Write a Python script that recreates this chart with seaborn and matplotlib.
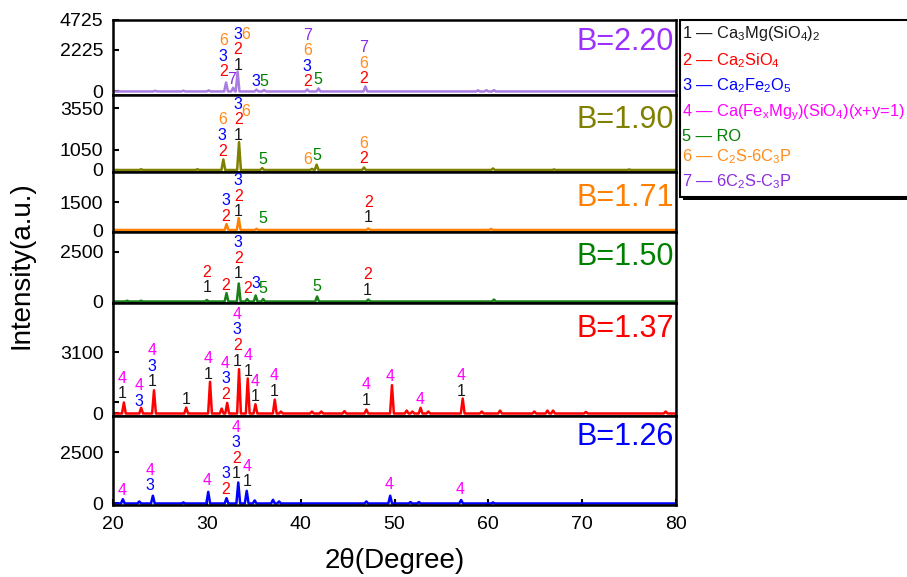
import numpy as np
import pandas as pd
import matplotlib
matplotlib.use('Agg')
import matplotlib.pyplot as plt
import seaborn as sns
from matplotlib.patches import Rectangle

sns.set_style('ticks')
plt.rcParams['font.family'] = ['Liberation Sans', 'DejaVu Sans']
plt.rcParams['mathtext.fontset'] = 'custom'
plt.rcParams['mathtext.rm'] = 'Liberation Sans'
plt.rcParams['mathtext.it'] = 'Liberation Sans:italic'
plt.rcParams['mathtext.bf'] = 'Liberation Sans:bold'
for key in ['text.color', 'axes.labelcolor', 'xtick.color', 'ytick.color']:
    plt.rcParams[key] = 'black'

# ---------------- data ----------------
samples = ['B=2.20', 'B=1.90', 'B=1.71', 'B=1.50', 'B=1.37', 'B=1.26']
line_colors = ['#A97EE0', '#808000', '#FF8000', '#1A801A', '#FF0000', '#0000FF']
label_colors = ['#9B30FF', '#808000', '#FF8000', '#008000', '#FF0000', '#0000FF']

# peak positions (2theta) and intensities
pos_220 = [24.5, 27.5, 30.2, 32.05, 32.8, 33.28, 35.3, 36.1, 40.7, 41.9, 46.9, 58.9, 59.8, 60.6]
int_220 = [40, 40, 60, 480, 200, 1070, 100, 80, 110, 160, 270, 60, 70, 70]

pos_190 = [23.0, 29.0, 31.76, 33.43, 35.9, 41.2, 41.7, 46.75, 60.5, 67.0, 75.0]
int_190 = [40, 40, 550, 1450, 100, 60, 280, 130, 80, 30, 30]

pos_171 = [32.1, 33.4, 35.3, 47.2, 60.3]
int_171 = [320, 640, 60, 80, 60]

pos_150 = [21.5, 23.0, 30.0, 32.1, 33.4, 34.3, 35.2, 36.0, 41.75, 47.2, 60.6]
int_150 = [40, 40, 75, 420, 900, 120, 300, 120, 250, 100, 100]

pos_137 = [21.16, 23.0, 24.37, 27.8, 30.34, 31.58, 32.17, 33.43, 34.36, 35.18, 37.24, 37.9,
           41.2, 42.2, 44.66, 47.0, 49.73, 51.3, 51.9, 52.78, 53.6, 57.27, 59.3, 61.25,
           64.9, 66.3, 66.9, 70.4, 78.9]
int_137 = [560, 290, 1180, 300, 1610, 250, 540, 2250, 1780, 470, 710, 100,
           100, 100, 120, 200, 1440, 150, 100, 290, 100, 760, 100, 150,
           100, 150, 150, 80, 100]

pos_126 = [21.05, 22.8, 24.25, 27.5, 30.15, 32.1, 33.35, 34.25, 35.1, 37.05, 37.7, 47.0,
           49.54, 51.7, 52.6, 57.1, 60.5]
int_126 = [210, 100, 380, 50, 570, 260, 1030, 620, 150, 180, 100, 100,
           380, 70, 70, 170, 50]

peak_pos = [pos_220, pos_190, pos_171, pos_150, pos_137, pos_126]
peak_int = [int_220, int_190, int_171, int_150, int_137, int_126]

# y ranges and tick labels for each panel
ylims = [(-190, 3830), (-104, 3900), (-107, 3110), (-75, 3475), (-127, 5613), (-74, 4288)]
yticks = [[0, 2225, 3830], [0, 1050, 3200], [0, 1500], [0, 2500], [0, 600, 3100], [0, 2500]]
ytick_labels = [['0', '2225', '4725'], ['0', '1050', '3550'], ['0', '1500'], ['0', '2500'],
                ['0', '', '3100'], ['0', '2500']]
sample_label_y = [0.600, 0.568, 0.433, 0.535, 0.702, 0.674]

# phase marks: (2theta, intensity at bottom digit, digits bottom -> top)
marks_220 = [(31.76, 820, '236'), (32.65, 413, '7'), (33.29, 1163, '123'), (34.17, 2825, '6'),
             (35.2, 268, '3'), (36.1, 268, '5'), (40.71, 268, '2367'), (41.88, 375, '5'),
             (46.68, 445, '267')]
marks_190 = [(31.65, 754, '236'), (33.35, 1570, '123'), (34.17, 2834, '6'), (36.0, 322, '5'),
             (40.7, 286, '6'), (41.7, 494, '5'), (46.75, 354, '26')]
marks_171 = [(31.98, 509, '23'), (33.35, 740, '123'), (36.0, 386, '5'), (47.2, 418, '12')]
marks_150 = [(30.0, 465, '12'), (31.98, 600, '2'), (33.35, 1165, '123'), (34.4, 415, '2'),
             (35.18, 665, '3'), (36.0, 435, '5'), (41.75, 550, '5'), (47.1, 335, '12')]
marks_137 = [(20.93, 777, '14'), (22.8, 406, '34'), (24.17, 1387, '134'), (27.8, 493, '1'),
             (30.15, 1763, '14'), (31.98, 747, '234'), (33.23, 2438, '1234'), (34.36, 1930, '14'),
             (35.18, 610, '14'), (37.13, 914, '14'), (47.0, 442, '14'), (49.54, 1626, '4'),
             (52.74, 493, '4'), (57.15, 914, '14')]
marks_126 = [(20.93, 426, '4'), (23.98, 637, '34'), (30.0, 916, '4'), (32.0, 475, '23'),
             (33.14, 1240, '1234'), (34.3, 848, '14'), (49.47, 720, '4'), (56.96, 475, '4')]
marks = [marks_220, marks_190, marks_171, marks_150, marks_137, marks_126]

phase_colors = {'1': '#1A1A1A', '2': '#FF0000', '3': '#0000FF', '4': '#FF00FF',
                '5': '#008000', '6': '#FF8C1A', '7': '#8A2BE2'}
legend_entries = [r'1 — Ca$_3$Mg(SiO$_4$)$_2$', r'2 — Ca$_2$SiO$_4$', r'3 — Ca$_2$Fe$_2$O$_5$',
                  r'4 — Ca(Fe$_{\rm x}$Mg$_{\rm y}$)(SiO$_4$)(x+y=1)', '5 — RO',
                  r'6 — C$_2$S-6C$_3$P', r'7 — 6C$_2$S-C$_3$P']
xticks = [20, 30, 40, 50, 60, 70, 80]


def profile(pos, inten, hw=0.2):
    xs, ys = [19.9, 80.0], [0.0, 0.0]
    for c, h in zip(pos, inten):
        xs += [c - hw, c, c + hw]
        ys += [0.0, h, 0.0]
    df = pd.DataFrame({'two_theta': xs, 'intensity': ys}).sort_values('two_theta')
    return df


W, H = 907, 577
fig = plt.figure(figsize=(W / 100, H / 100), dpi=100)
gs = fig.add_gridspec(6, 1, height_ratios=[75, 77, 60, 71, 113, 89], hspace=0,
                      left=113 / W, right=676 / W, top=1 - 20 / H, bottom=1 - 505 / H)

axes = []
for i in range(6):
    ax = fig.add_subplot(gs[i])
    axes.append(ax)
    df = profile(peak_pos[i], peak_int[i])
    sns.lineplot(data=df, x='two_theta', y='intensity', ax=ax, color=line_colors[i],
                 lw=1.8, estimator=None, sort=False)
    ax.set_xlim(20, 80)
    ax.set_ylim(*ylims[i])
    ax.set_yticks(yticks[i])
    ax.set_yticklabels(ytick_labels[i])
    ax.set_xticks(xticks)
    ax.set_xlabel('')
    ax.set_ylabel('')
    for sp in ax.spines.values():
        sp.set_visible(True)
        sp.set_linewidth(1.8)
        sp.set_color('black')
    ax.tick_params(axis='y', direction='in', length=4.5, width=1.5, labelsize=14, pad=7)
    ax.tick_params(axis='x', direction='in', length=4, width=1.5, labelsize=14, pad=8)
    if i < 5:
        ax.tick_params(axis='x', labelbottom=False, length=0)
    ax.text(0.9964, sample_label_y[i], samples[i], transform=ax.transAxes, ha='right',
            va='baseline', fontsize=22, color=label_colors[i])
    for (x, y, digits) in marks[i]:
        for k, d in enumerate(digits):
            ax.annotate(d, xy=(x, y), xytext=(0, 11.2 * k), textcoords='offset points',
                        ha='center', va='baseline', fontsize=11.5, color=phase_colors[d],
                        annotation_clip=False)

axes[-1].set_xlabel('2θ(Degree)', fontsize=20, labelpad=11)
fig.text(22 / W, 1 - 265 / H, 'Intensity(a.u.)', rotation=90, ha='center', va='center',
         fontsize=20)

# legend box
fig.patches.append(Rectangle((683 / W, 1 - 200 / H), (912 - 683) / W, (200 - 23) / H,
                             transform=fig.transFigure, facecolor='black', edgecolor='black',
                             lw=0, zorder=1))
fig.patches.append(Rectangle((680 / W, 1 - 197 / H), (909 - 680) / W, (197 - 20) / H,
                             transform=fig.transFigure, facecolor='white', edgecolor='black',
                             lw=1.5, zorder=2))
legend_baselines = [38.3, 65, 90, 116, 140.7, 161.7, 186.7]
for k, (txt, yb) in enumerate(zip(legend_entries, legend_baselines)):
    fig.text(682 / W, 1 - yb / H, txt, ha='left', va='baseline', fontsize=11.8,
             color=phase_colors[str(k + 1)], zorder=3)

fig.savefig('out.png', dpi=100)
